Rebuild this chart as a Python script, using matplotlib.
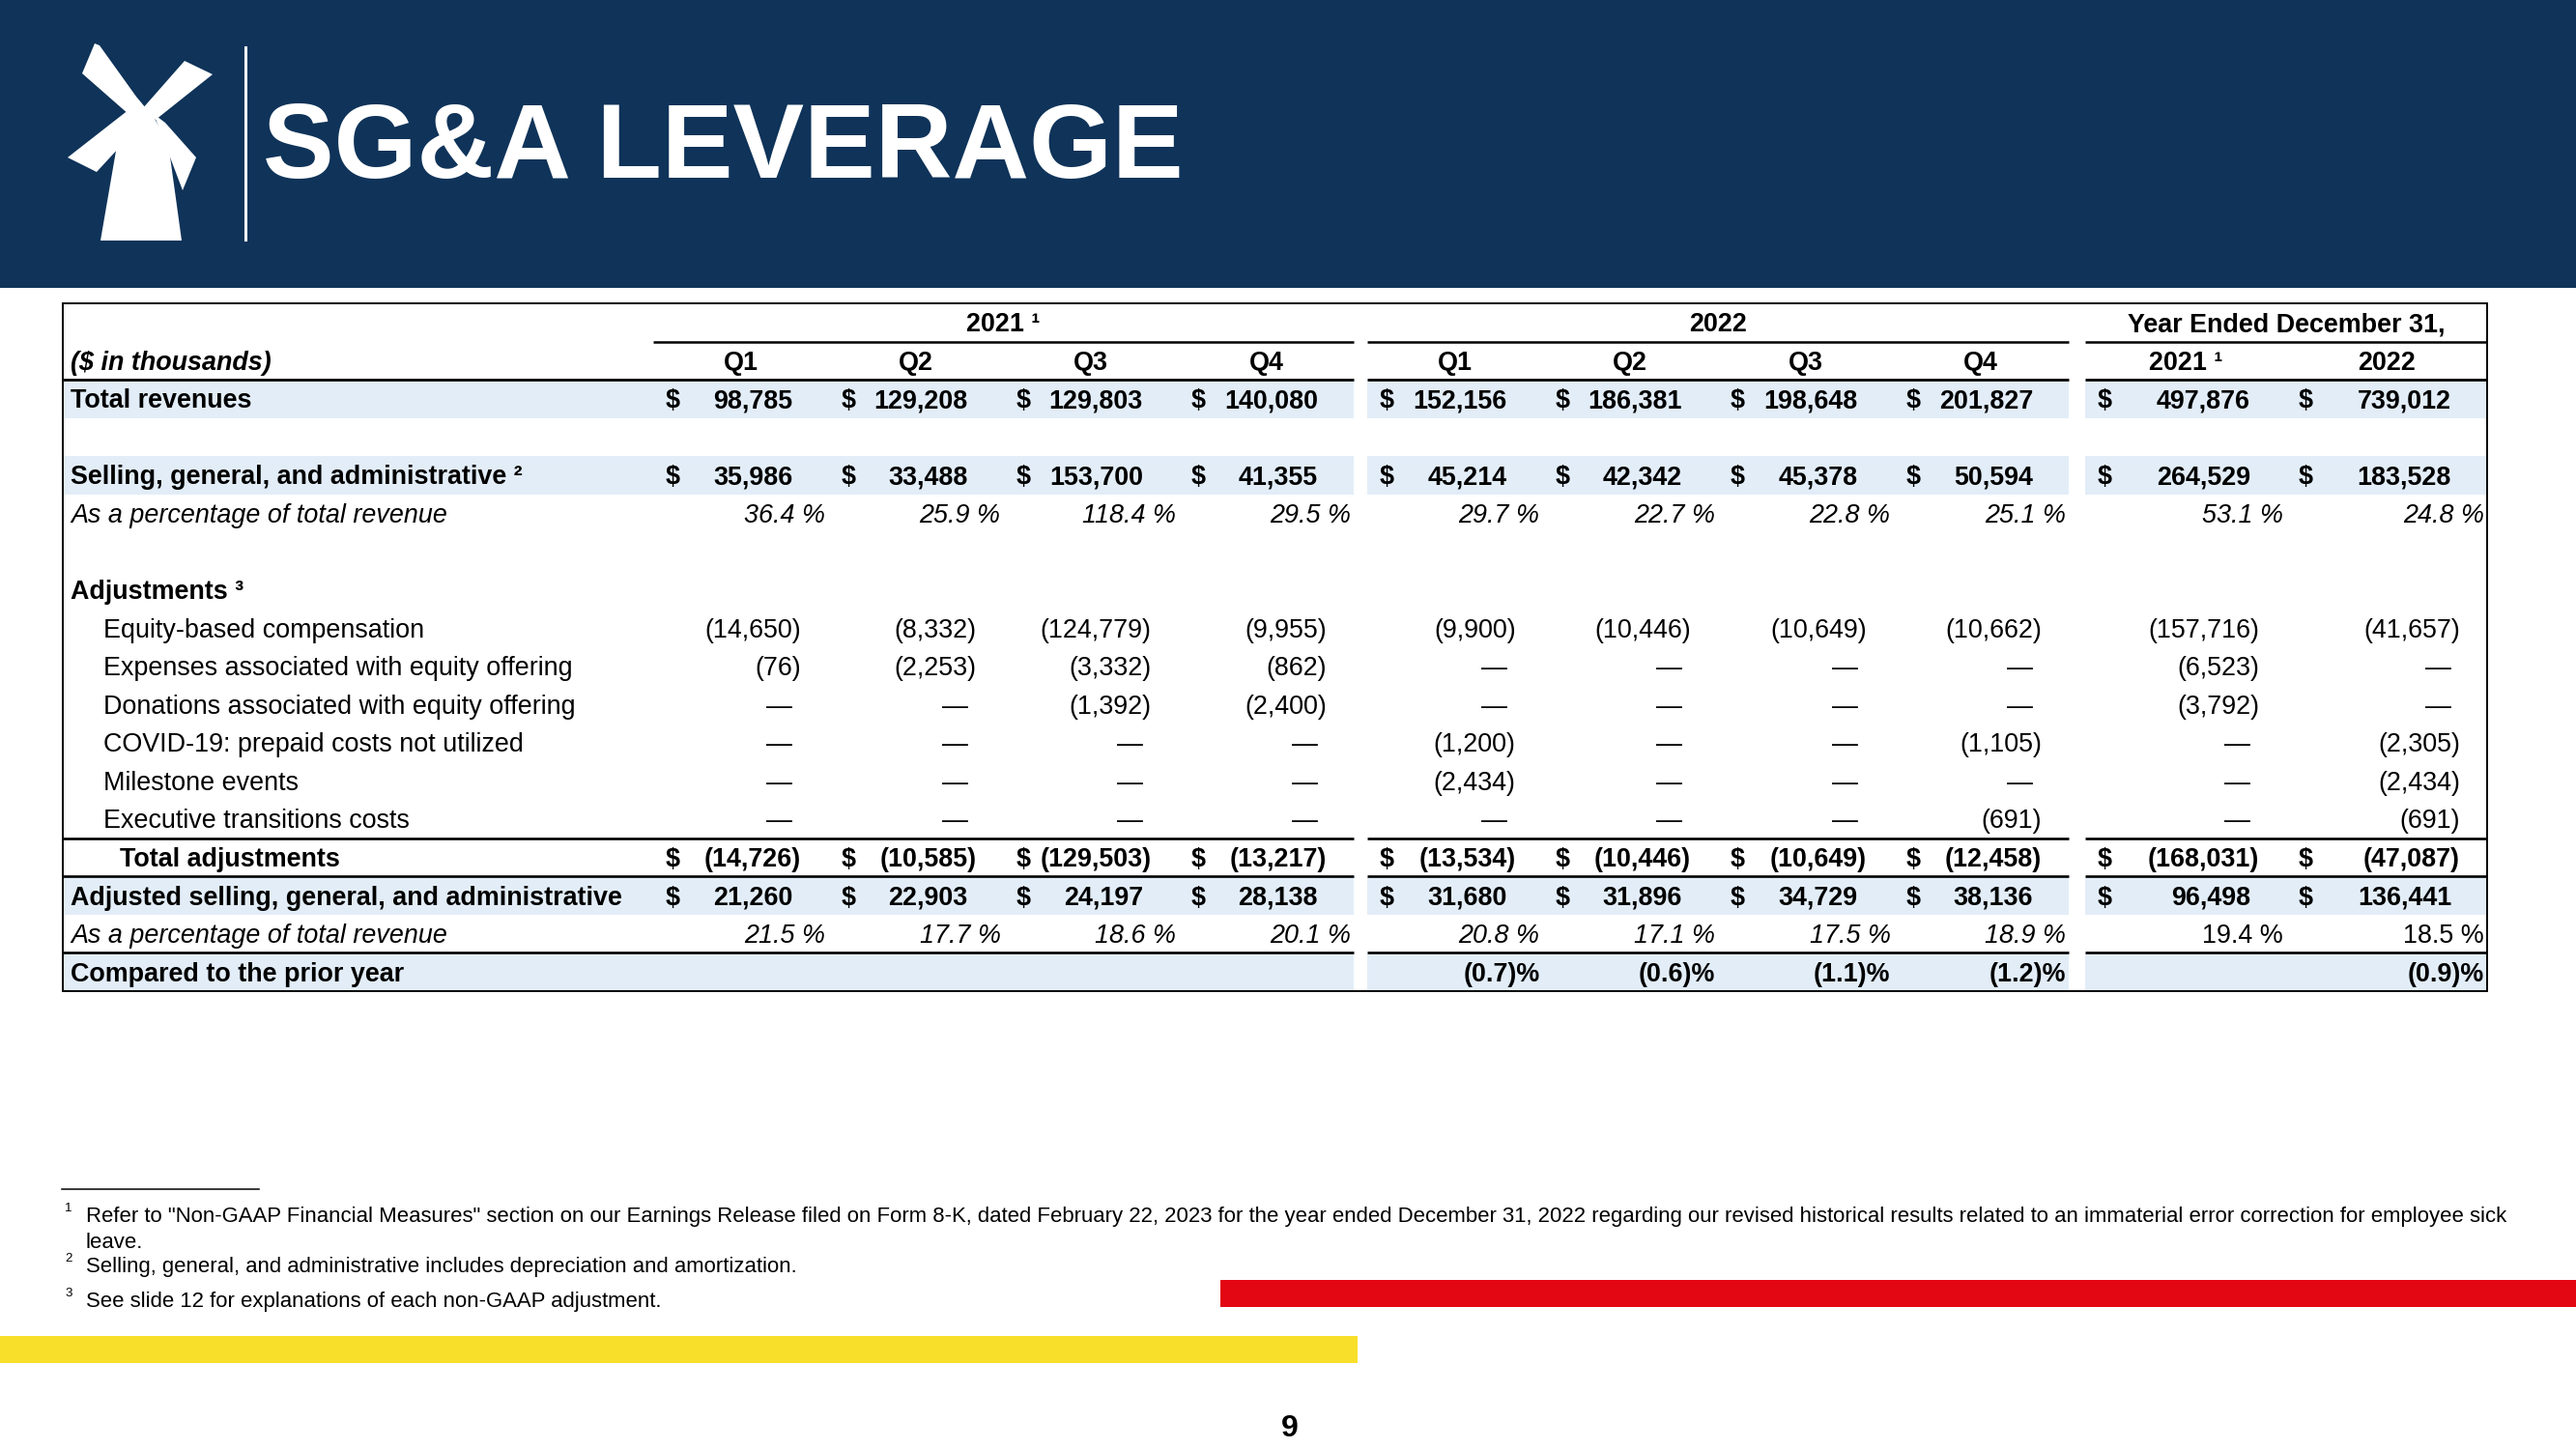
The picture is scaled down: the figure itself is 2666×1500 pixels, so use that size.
import matplotlib
matplotlib.use("Agg")
import matplotlib.pyplot as plt
from matplotlib.patches import Polygon, Rectangle

plt.rcParams['font.family'] = ['Liberation Sans', 'DejaVu Sans']

# ---- data ----
title = "SG&A LEVERAGE"
quarters = ["Q1", "Q2", "Q3", "Q4"]
group_titles = ["2021 ¹", "2022", "Year Ended December 31,"]
year_cols = ["2021 ¹", "2022"]

# columns: 2021 Q1-Q4, 2022 Q1-Q4, FY2021, FY2022
total_revenues = [98785, 129208, 129803, 140080, 152156, 186381, 198648, 201827, 497876, 739012]
sga = [35986, 33488, 153700, 41355, 45214, 42342, 45378, 50594, 264529, 183528]
sga_pct = [36.4, 25.9, 118.4, 29.5, 29.7, 22.7, 22.8, 25.1, 53.1, 24.8]
equity_comp = [-14650, -8332, -124779, -9955, -9900, -10446, -10649, -10662, -157716, -41657]
offering_expenses = [-76, -2253, -3332, -862, 0, 0, 0, 0, -6523, 0]
offering_donations = [0, 0, -1392, -2400, 0, 0, 0, 0, -3792, 0]
covid_prepaid = [0, 0, 0, 0, -1200, 0, 0, -1105, 0, -2305]
milestone_events = [0, 0, 0, 0, -2434, 0, 0, 0, 0, -2434]
exec_transitions = [0, 0, 0, 0, 0, 0, 0, -691, 0, -691]
total_adjustments = [-14726, -10585, -129503, -13217, -13534, -10446, -10649, -12458, -168031, -47087]
adjusted_sga = [21260, 22903, 24197, 28138, 31680, 31896, 34729, 38136, 96498, 136441]
adjusted_pct = [21.5, 17.7, 18.6, 20.1, 20.8, 17.1, 17.5, 18.9, 19.4, 18.5]
vs_prior_year = [None, None, None, None, -0.7, -0.6, -1.1, -1.2, None, -0.9]

footnotes = [
    ("1", ['Refer to "Non-GAAP Financial Measures" section on our Earnings Release filed on Form 8-K, dated February 22, 2023 '
           'for the year ended December 31, 2022 regarding our revised historical results related to an immaterial error '
           'correction for employee sick', 'leave.']),
    ("2", ["Selling, general, and administrative includes depreciation and amortization."]),
    ("3", ["See slide 12 for explanations of each non-GAAP adjustment."]),
]

# (label, values, style)
rows = [
    ("Total revenues", total_revenues, "money"),
    ("", None, "blank"),
    ("Selling, general, and administrative ²", sga, "money"),
    ("As a percentage of total revenue", sga_pct, "pct"),
    ("", None, "blank"),
    ("Adjustments ³", None, "head"),
    ("Equity-based compensation", equity_comp, "item"),
    ("Expenses associated with equity offering", offering_expenses, "item"),
    ("Donations associated with equity offering", offering_donations, "item"),
    ("COVID-19: prepaid costs not utilized", covid_prepaid, "item"),
    ("Milestone events", milestone_events, "item"),
    ("Executive transitions costs", exec_transitions, "item"),
    ("Total adjustments", total_adjustments, "total"),
    ("Adjusted selling, general, and administrative", adjusted_sga, "money"),
    ("As a percentage of total revenue", adjusted_pct, "pct2"),
    ("Compared to the prior year", vs_prior_year, "cmp"),
]

# ---- colours / layout ----
NAVY = "#0F3359"
BAND = "#E2EDF8"
RED = "#E30613"
YELLOW = "#F8DF2A"
W, H = 2666, 1500
TFS = 19.4           # table font size
cap = TFS / 72 * 100 * 0.35

fig = plt.figure(figsize=(W / 100, H / 100), dpi=100)
ax = fig.add_axes([0, 0, 1, 1])
ax.set_xlim(0, W)
ax.set_ylim(H, 0)
ax.axis('off')

# header band + logo + title
ax.add_patch(Rectangle((0, 0), W, 298, color=NAVY, lw=0))
windmill = [
    [(124, 133), (172, 133), (188, 249), (104, 249)],
    [(128, 136), (133, 119), (146, 110), (158, 119), (167, 136)],
    [(98, 45), (103, 47), (141, 100), (151, 112), (134, 119), (85, 76)],
    [(191, 63), (220, 77), (161, 124), (147, 113)],
    [(134, 113), (148, 126), (100, 178), (70, 163)],
    [(159, 118), (171, 127), (203, 163), (189, 197)],
]
for pts in windmill:
    ax.add_patch(Polygon(pts, closed=True, color="white", lw=0))
ax.plot([254, 254], [49, 248], color="white", lw=2.2)
ax.text(272, 184, title, color="white", fontsize=79.5, fontweight="bold", va="baseline", ha="left")

# table geometry
top, bottom = 314, 1026
left, right = 65, 2574
n_rows = 2 + len(rows)
pitch = (bottom - top) / n_rows
groups = [(676, 1401), (1415, 2141), (2158, 2574)]
cols = []
for g0, g1 in groups[:2]:
    w = (g1 - g0) / 4
    cols += [(g0 + k * w, g0 + (k + 1) * w) for k in range(4)]
w = (groups[2][1] - groups[2][0]) / 2
cols += [(groups[2][0] + k * w, groups[2][0] + (k + 1) * w) for k in range(2)]
segs_full = [(left, groups[0][1]), groups[1], groups[2]]


def yc(i):
    return top + pitch * (i + 0.5)


def base(i):
    return yc(i) + cap


def hline(y, segs, lw=1.8):
    for a, b in segs:
        ax.plot([a, b], [y, y], color="black", lw=lw, solid_capstyle="butt")


def money(v):
    if v == 0:
        return "—"
    if v < 0:
        return "({:,})".format(-v)
    return "{:,}".format(v)


# blue bands
for i, (lab, vals, style) in enumerate(rows):
    if lab in ("Total revenues", "Selling, general, and administrative ²",
               "Adjusted selling, general, and administrative", "Compared to the prior year"):
        for a, b in segs_full:
            ax.add_patch(Rectangle((a, top + pitch * (i + 2)), b - a, pitch, color=BAND, lw=0))

# header rows
for g, t in zip(groups, group_titles):
    ax.text((g[0] + g[1]) / 2, base(0), t, fontsize=TFS, fontweight="bold", ha="center", va="baseline")
ax.text(73, base(1), "($ in thousands)", fontsize=TFS, fontweight="bold", style="italic", va="baseline")
for j, (a, b) in enumerate(cols):
    lab = quarters[j % 4] if j < 8 else year_cols[j - 8]
    ax.text((a + b) / 2, base(1), lab, fontsize=TFS, fontweight="bold", ha="center", va="baseline")

# body rows
for i, (lab, vals, style) in enumerate(rows):
    r = i + 2
    y = base(r)
    if style in ("money", "head", "cmp"):
        ax.text(73, y, lab, fontsize=TFS, fontweight="bold", va="baseline")
    elif style == "total":
        ax.text(124, y, lab, fontsize=TFS, fontweight="bold", va="baseline")
    elif style in ("pct", "pct2"):
        ax.text(73, y, lab, fontsize=TFS, style="italic", va="baseline")
    elif style == "item":
        ax.text(107, y, lab, fontsize=TFS, va="baseline")
    if vals is None:
        continue
    for j, v in enumerate(vals):
        a, b = cols[j]
        if style in ("money", "total"):
            ax.text(a + 13, y, "$", fontsize=TFS, fontweight="bold", va="baseline")
            s = money(v)
            ax.text(b - (28 if s.endswith(")") else 37), y, s, fontsize=TFS, fontweight="bold",
                    ha="right", va="baseline")
        elif style == "item":
            s = money(v)
            ax.text(b - (28 if s.endswith(")") else 37), y, s, fontsize=TFS, ha="right", va="baseline")
        elif style in ("pct", "pct2"):
            st = "normal" if (style == "pct2" and j >= 8) else "italic"
            ax.text(b - 3, y, "{:.1f} %".format(v), fontsize=TFS, style=st, ha="right", va="baseline")
        elif style == "cmp" and v is not None:
            ax.text(b - 3, y, "({:.1f})%".format(-v), fontsize=TFS, fontweight="bold", ha="right", va="baseline")

# rules
hline(top + pitch, [g for g in groups])
hline(top + pitch * 2, segs_full, lw=2.0)
for r in (14, 15, 17):
    hline(top + pitch * r, segs_full, lw=1.9)
ax.add_patch(Rectangle((left, top), right - left, bottom - top, fill=False, ec="black", lw=1.4))

# footnotes
ax.plot([64, 268], [1231, 1231], color="black", lw=1.1)
fn_base = [1265, 1317, 1353]
for (num, lines), y in zip(footnotes, fn_base):
    ax.text(67, y - 11, num, fontsize=9.5, va="baseline")
    for k, txt in enumerate(lines):
        ax.text(89, y + 27 * k, txt, fontsize=15.9, va="baseline")

# colour bars and page number
ax.add_patch(Rectangle((1263, 1325), W - 1263, 28, color=RED, lw=0))
ax.add_patch(Rectangle((0, 1383), 1405, 28, color=YELLOW, lw=0))
ax.text(1335, 1487, "9", fontsize=23, fontweight="bold", ha="center", va="baseline")

fig.savefig("out.png", dpi=100)
